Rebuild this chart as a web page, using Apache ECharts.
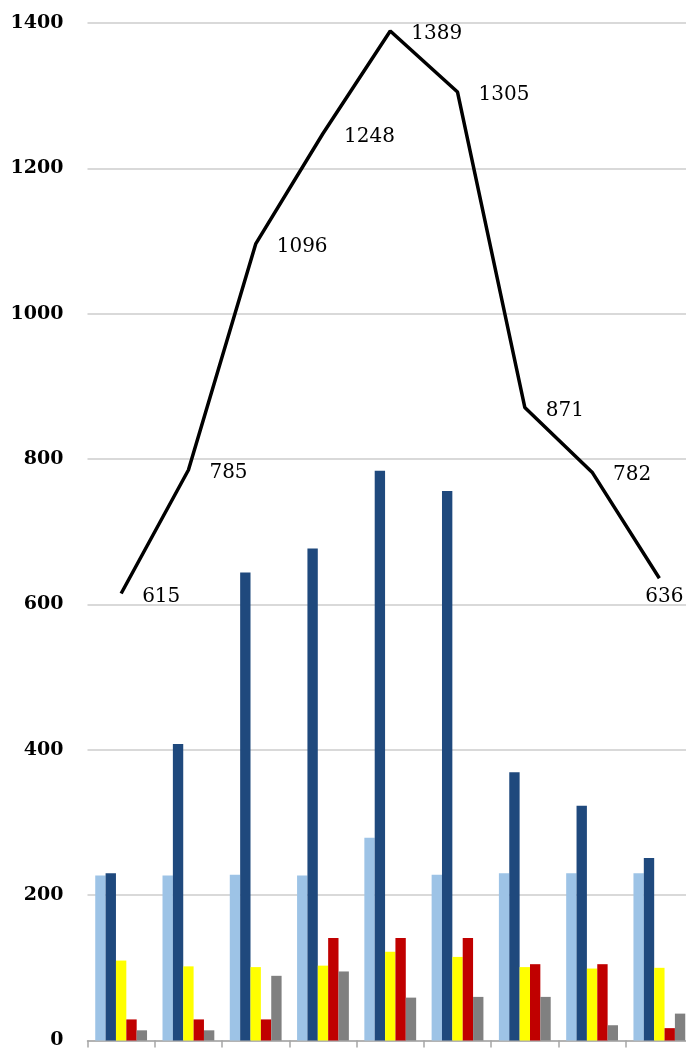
<!DOCTYPE html>
<html>
<head>
	<meta charset="utf-8">
	<title>Chart</title>
	<style>
		html, body { margin: 0; padding: 0; background: #fff; overflow: hidden; }
		#main { width: 693px; height: 1050px; }
	</style>
</head>
<body>
	<div id="main"></div>
<script src="https://cdn.jsdelivr.net/npm/echarts@6/dist/echarts.min.js"></script>
<script>
	var categories = ['1', '2', '3', '4', '5', '6', '7', '8', '9'];
	var lightBlue = [227, 227, 228, 227, 279, 228, 230, 230, 230];
	var darkBlue  = [230, 408, 644, 677, 784, 756, 369, 323, 251];
	var yellow    = [110, 102, 101, 103, 122, 115, 101, 99, 100];
	var red       = [29, 29, 29, 141, 141, 141, 105, 105, 17];
	var gray      = [14, 14, 89, 95, 59, 60, 60, 21, 37];
	var total     = [615, 785, 1096, 1248, 1389, 1305, 871, 782, 636];
	var yTicks    = [0, 200, 400, 600, 800, 1000, 1200, 1400];

	function barSeries(name, data, color) {
		return {
			name: name,
			type: 'bar',
			barGap: '0%',
			barCategoryGap: '23%',
			data: data,
			itemStyle: { color: color },
			animation: false
		};
	}

	// chart div is a bit wider than the window: the last column runs off the right edge
	var chart = echarts.init(document.getElementById('main'));

	// last point label sits under the line end, others to the right
	var lineData = total.map(function (v, i) {
		if (i === total.length - 1) {
			return {
				value: v,
				label: { position: [-13, 10], align: 'left', verticalAlign: 'top', offset: [0, 0] }
			};
		}
		return v;
	});

	var option = {
		backgroundColor: '#ffffff',
		animation: false,
		grid: { left: 87.5, right: 0, top: 23, bottom: 7 },
		xAxis: {
			type: 'category',
			data: categories,
			axisLine: { lineStyle: { color: '#a6a6a6', width: 1.5 } },
			axisTick: { show: true, length: 7, lineStyle: { color: '#a6a6a6', width: 1.5 } },
			axisLabel: { show: false }
		},
		yAxis: {
			type: 'value',
			min: yTicks[0],
			max: yTicks[yTicks.length - 1],
			interval: 200,
			axisLine: { show: false },
			axisTick: { show: false },
			splitLine: { lineStyle: { color: '#d9d9d9', width: 2 } },
			axisLabel: {
				margin: 24,
				formatter: function (v) { return String(v); },
				fontFamily: 'DejaVu Serif',
				fontWeight: 'bold',
				fontSize: 19,
				color: '#000'
			}
		},
		series: [
			barSeries('a', lightBlue, '#9dc3e6'),
			barSeries('b', darkBlue, '#1f497d'),
			barSeries('c', yellow, '#ffff00'),
			barSeries('d', red, '#c00000'),
			barSeries('e', gray, '#808080'),
			{
				name: 'total',
				type: 'line',
				data: lineData,
				showSymbol: true,
				symbol: 'circle',
				symbolSize: 2,
				itemStyle: { color: 'rgba(0,0,0,0)', borderWidth: 0 },
				lineStyle: { color: '#000', width: 3.5 },
				label: {
					show: true,
					position: 'right',
					distance: 20,
					offset: [0, 3],
					fontFamily: 'DejaVu Serif',
					fontSize: 20,
					color: '#000'
				},
				animation: false
			}
		]
	};
	chart.setOption(option);
</script>
</body>
</html>
